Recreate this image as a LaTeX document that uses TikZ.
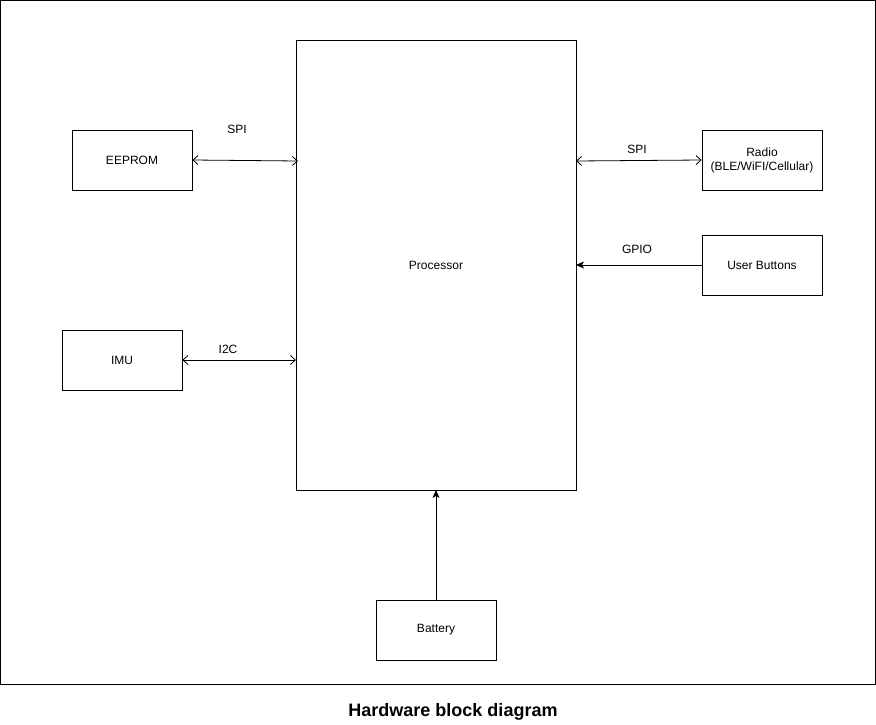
\documentclass[tikz,border=0pt]{standalone}
\usepackage{fontspec}
\setmainfont{Liberation Sans}
\usetikzlibrary{arrows.meta}
\begin{document}
\begin{tikzpicture}[x=1pt,y=-1pt,
  blk/.style={draw,line width=0.8pt,minimum width=120pt,minimum height=60pt,inner sep=0pt,align=center,font=\fontsize{12}{14}\selectfont},
  lbl/.style={font=\fontsize{12}{14}\selectfont,inner sep=0pt},
  bi/.style={line width=0.8pt,{Straight Barb[length=5pt,width=9pt]}-{Straight Barb[length=5pt,width=9pt]}},
  one/.style={line width=0.8pt,-{Stealth[length=8pt,width=7pt,inset=2pt]}}]
\useasboundingbox (0,0) rectangle (876,725);
\draw[line width=0.8pt] (0.5,0.5) rectangle (875.5,684.5);
\node[draw,line width=0.8pt,minimum width=280pt,minimum height=450pt,inner sep=0pt,font=\fontsize{12}{14}\selectfont] (proc) at (436,265) {Processor};
\node[blk] (eeprom) at (132,160) {EEPROM};
\node[blk] (imu) at (122,360) {IMU};
\node[blk] (radio) at (762,160) {Radio\\(BLE/WiFI/Cellular)};
\node[blk] (btn) at (762,265) {User Buttons};
\node[blk] (bat) at (436,630) {Battery};
\coordinate (pE) at (298,161);
\coordinate (pI) at (296,360);
\coordinate (pR) at (576,161);
\coordinate (pB) at (576,265);
\coordinate (pBat) at (436,490);
\draw[bi] (eeprom.east) -- (pE);
\draw[bi] (imu.east) -- (pI);
\draw[bi] (pR) -- (radio.west);
\draw[one] (btn.west) -- (pB);
\draw[one] (bat.north) -- (pBat);
\node[lbl] (l1) at (237,129) {SPI};
\node[lbl] (l2) at (228,349) {I2C};
\node[lbl] (l3) at (637,149) {SPI};
\node[lbl] (l4) at (637,249) {GPIO};
\node[font=\bfseries\fontsize{18}{20}\selectfont,inner sep=0pt] (cap) at (453,712) {Hardware block diagram};
\end{tikzpicture}
\end{document}
